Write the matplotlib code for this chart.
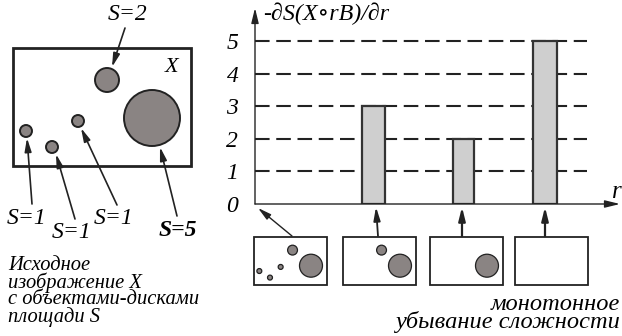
import matplotlib.pyplot as plt
from matplotlib.patches import Rectangle, Circle

# --- data ---
# disks of the source image X: centre (x, y) inside the frame, radius, area S
disk_x = [94, 139, 13, 39, 65]
disk_y = [32, 70, 83, 99, 73]
disk_r = [12, 28, 6, 6, 6]
disk_S = [2, 5, 1, 1, 1]

# opening residues: position on r axis, height (-dS/dr), bar width
r_pos = [3.29, 5.79, 8.06]
r_val = [3, 2, 5]
r_width = [0.64, 0.58, 0.67]
y_ticks = [0, 1, 2, 3, 4, 5]

caption_left = ["Исходное", "изображение X", "с объектами-дисками", "площади S"]
caption_right = ["монотонное", "убывание сложности"]

plt.rcParams["font.family"] = ["Liberation Serif", "DejaVu Serif"]
plt.rcParams["font.style"] = "italic"

W, H = 622, 336
DISK_FC = "#8a8483"
DARK = "#222222"

fig = plt.figure(figsize=(W / 100, H / 100), dpi=100)
ax = fig.add_axes([0, 0, 1, 1])
ax.set_xlim(0, W)
ax.set_ylim(H, 0)
ax.axis("off")
renderer = fig.canvas.get_renderer()


def fit_size(texts, width_px, size=14):
    # scale font so the widest line spans width_px
    widest = max(t.get_window_extent(renderer).width for t in texts)
    for t in texts:
        t.set_fontsize(size * width_px / widest)


def draw_image(x0, y0, scale, keep, lw):
    w, h = 178 * scale, 118 * scale
    ax.add_patch(Rectangle((x0, y0), w, h, fill=False, ec=DARK, lw=lw))
    for dx, dy, rr, s in zip(disk_x, disk_y, disk_r, disk_S):
        if s in keep:
            ax.add_patch(Circle((x0 + dx * scale, y0 + dy * scale), rr * scale,
                                fc=DISK_FC, ec=DARK, lw=lw * 0.7))


def arrow(x1, y1, x2, y2, lw=1.2):
    ax.annotate("", xy=(x2, y2), xytext=(x1, y1),
                arrowprops=dict(arrowstyle="-|>,head_length=0.8,head_width=0.2",
                                color=DARK, lw=lw, shrinkA=0, shrinkB=0))


# source image
draw_image(13, 48, 1.0, {1, 2, 5}, 2.0)
ax.text(172, 68, "X", fontsize=16, ha="center", va="center")

lab = dict(fontsize=17, ha="center", va="center")
ax.text(128, 15, "S=2", **lab)
arrow(125, 28, 112, 67)
ax.text(27, 218, "S=1", **lab)
arrow(32, 204, 27, 138)
ax.text(72, 233, "S=1", **lab)
arrow(75, 219, 56, 154)
ax.text(114, 218, "S=1", **lab)
arrow(117, 205, 81, 128)
ax.text(178, 230, "S=5", weight="bold", **lab)
arrow(177, 216, 160, 147)

left = [ax.text(8, 266 + i * 17, line, fontsize=14, ha="left", va="center")
        for i, line in enumerate(caption_left)]
fit_size(left, 192)
right = [ax.text(620, 304 + i * 18, line, fontsize=14, ha="right", va="center")
         for i, line in enumerate(caption_right)]
fit_size(right, 225)

# thumbnails: stages of the opening
thumb_x = [254, 343, 430, 515]
stages = [{1, 2, 5}, {2, 5}, {5}, set()]
for tx, keep in zip(thumb_x, stages):
    draw_image(tx, 237, 0.41, keep, 1.3)

arrow(292, 236, 258, 208, lw=1.0)
arrow(378, 236, 376, 207, lw=1.3)
arrow(462, 236, 462, 207, lw=1.6)
arrow(545, 236, 545, 207, lw=1.6)

# --- chart ---
x0px, y0px, ux, uy = 255, 204, 36.0, 32.6
bx = fig.add_axes([x0px / W, (H - y0px) / H, (W - x0px) / W, (y0px - 8) / H])
bx.set_xlim(0, (W - x0px) / ux)
bx.set_ylim(0, (y0px - 8) / uy)
bx.patch.set_alpha(0)
for sp in bx.spines.values():
    sp.set_visible(False)
bx.set_xticks([])
bx.set_yticks(y_ticks)
bx.set_yticklabels([str(t) for t in y_ticks], fontsize=17)
bx.tick_params(axis="y", length=0, pad=12)

bx.hlines(y_ticks[1:], 0, (587 - x0px) / ux, colors=DARK, lw=1.5,
          linestyles=(0, (7, 3.2)), zorder=1)
bx.bar(r_pos, r_val, width=r_width, color="#cfcfcf", edgecolor="#333333",
       linewidth=1.6, zorder=2)

# axes with arrows
head = dict(arrowstyle="-|>,head_length=0.9,head_width=0.22",
            color=DARK, lw=1.0, shrinkA=0, shrinkB=0)
bx.annotate("", xy=(0, (y0px - 8) / uy), xytext=(0, 0), arrowprops=head,
            annotation_clip=False, zorder=3)
bx.annotate("", xy=((W - 2 - x0px) / ux, 0), xytext=(0, 0), arrowprops=head,
            annotation_clip=False, zorder=3)

ylab = ax.text(263, 14, "-∂S(X∘rB)/∂r", fontsize=15, ha="left", va="center")
fit_size([ylab], 127, 15)
ax.text(617, 192, "r", fontsize=18, ha="center", va="center")

fig.savefig("out.png", dpi=100)
